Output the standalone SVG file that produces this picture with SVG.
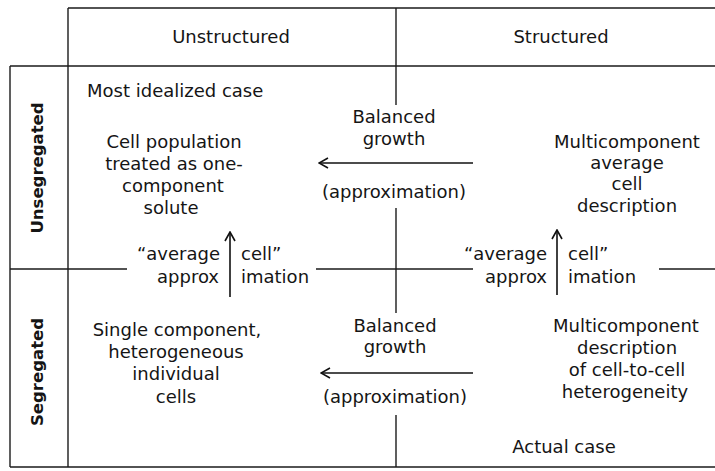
<svg xmlns="http://www.w3.org/2000/svg" width="715" height="471" viewBox="0 0 715 471">
<style>
text{font-family:"DejaVu Sans","Liberation Sans",sans-serif;font-size:18px;fill:#151515}
.c{text-anchor:middle}
.r{text-anchor:end}
.v{font-weight:bold;font-size:16.5px}
.grid line{stroke:#1a1a1a;stroke-width:1.4}
.conn line{stroke:#111;stroke-width:1.6;fill:none}
</style>
<defs>
<marker id="ah" viewBox="-11 -6 12 12" markerWidth="12" markerHeight="12" refX="0" refY="0" orient="auto" markerUnits="userSpaceOnUse">
<path d="M-9,-5 L0,0 L-9,5" fill="none" stroke="#111" stroke-width="1.6"/>
</marker>
</defs>
<rect width="715" height="471" fill="#fff"/>
<g class="grid" id="grid">
<line x1="68" y1="8" x2="715" y2="8"/>
<line x1="68" y1="8" x2="68" y2="467"/>
<line x1="10" y1="66" x2="715" y2="66"/>
<line x1="10" y1="66" x2="10" y2="467"/>
<line x1="10" y1="467" x2="715" y2="467"/>
<line x1="396" y1="8" x2="396" y2="105"/>
<line x1="396" y1="208" x2="396" y2="313"/>
<line x1="396" y1="415" x2="396" y2="467"/>
<line x1="10" y1="269" x2="127" y2="269"/>
<line x1="316" y1="269" x2="473" y2="269"/>
<line x1="659" y1="269" x2="715" y2="269"/>
</g>
<g id="header-unstructured"><text class="c" x="231" y="43">Unstructured</text></g>
<g id="header-structured"><text class="c" x="561" y="43">Structured</text></g>
<g id="label-unsegregated"><text class="c v" transform="translate(43,168) rotate(-90)">Unsegregated</text></g>
<g id="label-segregated"><text class="c v" transform="translate(43,372) rotate(-90)">Segregated</text></g>
<g id="most-idealized"><text x="87" y="97">Most idealized case</text></g>
<g id="cell-population">
<text class="c" x="174" y="148">Cell population</text>
<text class="c" x="174" y="170">treated as one-</text>
<text class="c" x="173" y="192">component</text>
<text class="c" x="171" y="214">solute</text>
</g>
<g id="multicomponent-average">
<text class="c" x="627" y="148">Multicomponent</text>
<text class="c" x="627" y="169">average</text>
<text class="c" x="627" y="190">cell</text>
<text class="c" x="627" y="212">description</text>
</g>
<g id="single-component">
<text class="c" x="177" y="336">Single component,</text>
<text class="c" x="176" y="358">heterogeneous</text>
<text class="c" x="176" y="380">individual</text>
<text class="c" x="176" y="403">cells</text>
</g>
<g id="multicomponent-heterogeneity">
<text class="c" x="626" y="332">Multicomponent</text>
<text class="c" x="627" y="354">description</text>
<text class="c" x="627" y="376">of cell-to-cell</text>
<text class="c" x="625" y="398">heterogeneity</text>
</g>
<g id="actual-case"><text class="c" x="564" y="453">Actual case</text></g>
<g class="conn" id="connectors">
<line x1="473" y1="163" x2="319" y2="163" marker-end="url(#ah)"/>
<line x1="473" y1="373" x2="321" y2="373" marker-end="url(#ah)"/>
<line x1="230" y1="297" x2="230" y2="232" marker-end="url(#ah)"/>
<line x1="557" y1="295" x2="557" y2="230" marker-end="url(#ah)"/>
</g>
<g id="conn-labels">
<text class="c" x="394" y="123">Balanced</text>
<text class="c" x="394" y="145">growth</text>
<text class="c" x="394" y="198">(approximation)</text>
<text class="c" x="395" y="332">Balanced</text>
<text class="c" x="395" y="353">growth</text>
<text class="c" x="395" y="403">(approximation)</text>
<text class="r" x="220" y="260">“average</text>
<text class="r" x="219" y="283">approx</text>
<text x="241" y="260">cell”</text>
<text x="241" y="283">imation</text>
<text class="r" x="547" y="260">“average</text>
<text class="r" x="547" y="283">approx</text>
<text x="568" y="260">cell”</text>
<text x="568" y="283">imation</text>
</g>
</svg>
